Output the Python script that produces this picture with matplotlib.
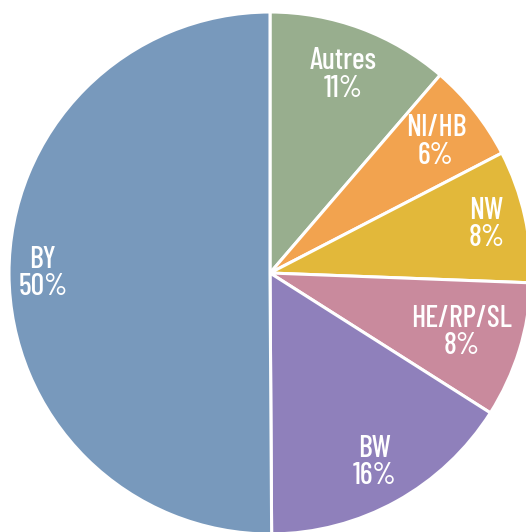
import matplotlib
matplotlib.use("Agg")
import matplotlib.pyplot as plt
import numpy as np

categories = ["Autres", "NI/HB", "NW", "HE/RP/SL", "BW", "BY"]
values = [11.3, 6.1, 8.2, 8.4, 15.9, 50.1]
pct_labels = ["11%", "6%", "8%", "8%", "16%", "50%"]
colors = ["#98AE8E", "#F2A34F", "#E2B83A", "#C98A9D", "#8F80BB", "#7899BC"]
label_radius = [0.81, 0.81, 0.85, 0.77, 0.83, 0.87]

W, H, DPI = 526, 532, 100
cx, cy, R = 270, 273, 261

fig = plt.figure(figsize=(W / DPI, H / DPI), dpi=DPI)
ax = fig.add_axes([0, 0, 1, 1])
wedges, _ = ax.pie(values, colors=colors, startangle=90, counterclock=False,
                   radius=1.0,
                   wedgeprops=dict(edgecolor="white", linewidth=2.2))
ax.set_xlim(-cx / R, (W - cx) / R)
ax.set_ylim(-(H - cy) / R, cy / R)
ax.set_aspect("auto")
ax.axis("off")

fam = ["Barlow Condensed", "Roboto Condensed", "DejaVu Sans"]
for w, cat, pl, rr in zip(wedges, categories, pct_labels, label_radius):
    ang = np.deg2rad((w.theta1 + w.theta2) / 2)
    x, y = rr * np.cos(ang), rr * np.sin(ang)
    ax.text(x, y, f"{cat}\n{pl}", ha="center", va="center", color="white",
            fontsize=21.5, family=fam, fontweight="medium", linespacing=0.98)

fig.savefig("out.png", dpi=DPI)
